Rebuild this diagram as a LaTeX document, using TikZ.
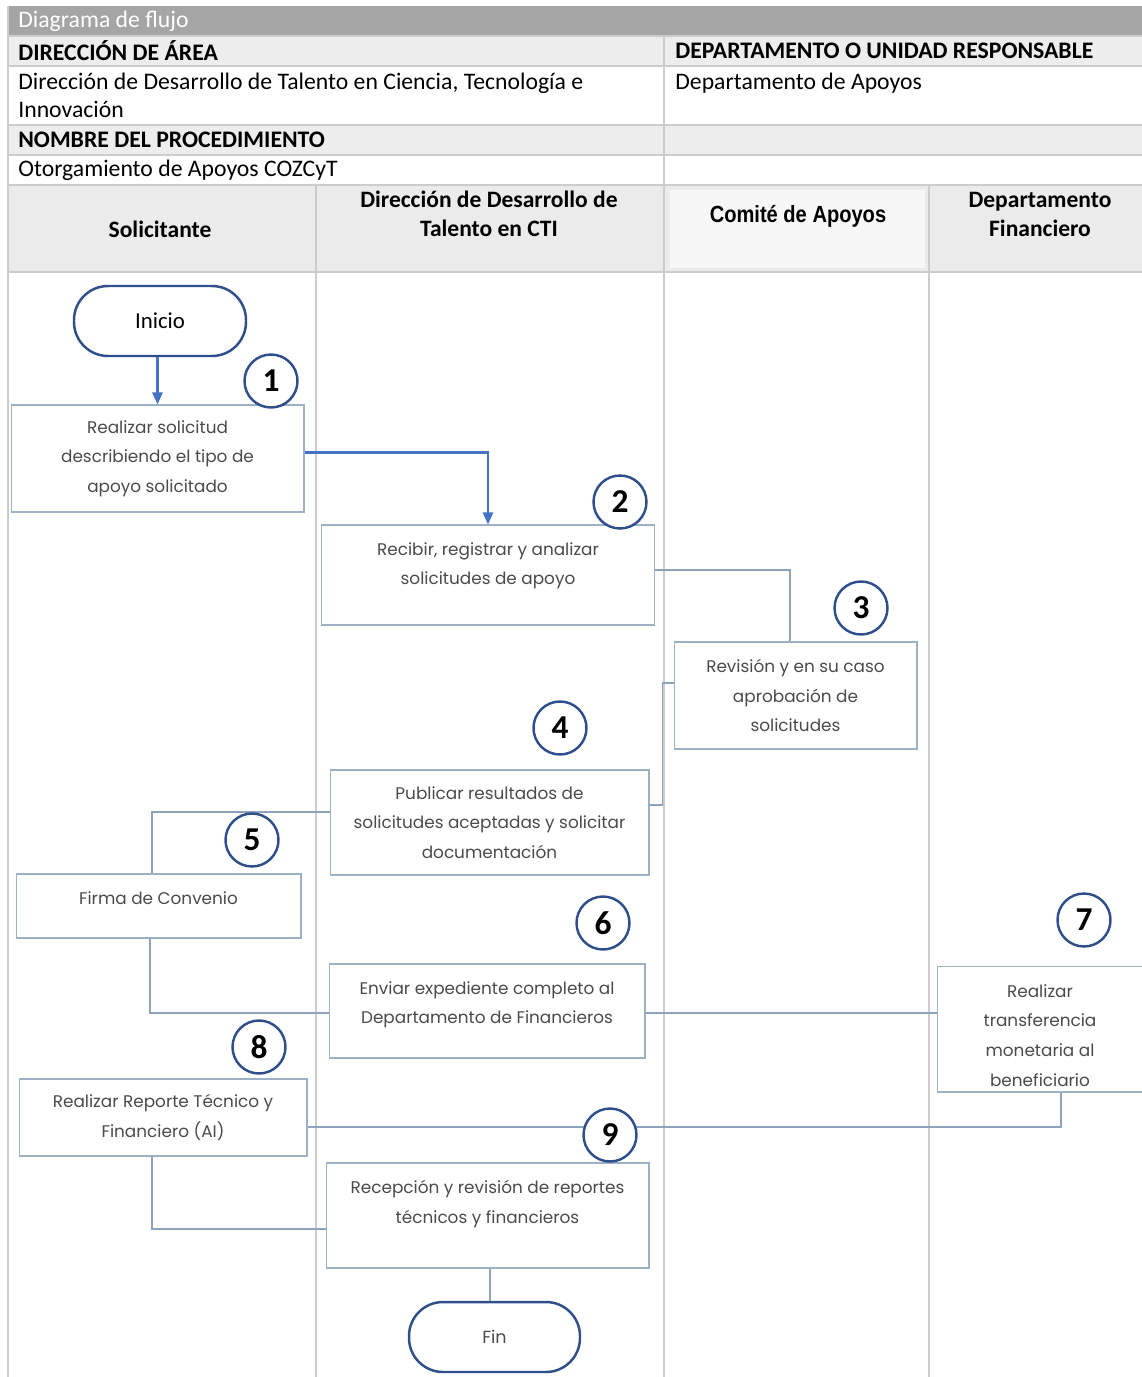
\documentclass[tikz,border=0pt]{standalone}
\usepackage{fontspec}
\setmainfont{Carlito}
\newfontfamily\boxfont{Poppins}
\newfontfamily\narrowfont{Liberation Sans}[FakeStretch=0.86]
\usetikzlibrary{arrows.meta}

\definecolor{titlegray}{HTML}{A5A5A5}
\definecolor{rowgray}{HTML}{EDEDED}
\definecolor{lanegray}{HTML}{EBEBEB}
\definecolor{comitefill}{HTML}{F7F7F7}
\definecolor{gridcol}{HTML}{CCCCCC}
\definecolor{navy}{HTML}{2F4F8A}
\definecolor{boxline}{HTML}{9CB0C6}
\definecolor{linkcol}{HTML}{8DA3BB}
\definecolor{flowblue}{HTML}{4472C4}
\definecolor{boxtext}{HTML}{4A4A4A}

\begin{document}
\begin{tikzpicture}[x=0.02cm, y=-0.02cm,
    grid/.style={gridcol, line width=0.6pt},
    head/.style={font=\bfseries\fontsize{13.4}{16.5}\selectfont, align=center},
    cell/.style={font=\fontsize{13.5}{16}\selectfont, inner sep=0pt},
    bold/.style={font=\bfseries\fontsize{13.5}{16}\selectfont},
    stepbox/.style={draw=boxline, line width=0.6pt, align=center, text=boxtext, inner sep=0pt,
      font=\boxfont\fontsize{9.6}{16.8}\selectfont},
    ends/.style={draw=navy, line width=1.4pt, rounded corners=0.68cm,
      minimum width=3.44cm, minimum height=1.4cm},
    num/.style={circle, draw=navy, line width=1.4pt, fill=white, minimum size=1.06cm,
      inner sep=0pt, font=\bfseries\fontsize{19}{19}\selectfont},
    link/.style={draw=linkcol, line width=0.6pt},
    flow/.style={draw=flowblue, line width=1.3pt, -{Triangle[length=0.24cm, width=0.2cm]}}]
  \useasboundingbox (0,0) rectangle (1142,1377);

  % encabezado
  \fill[titlegray] (8,6) rectangle (1142,36);
  \fill[rowgray] (8,36) rectangle (1142,66);
  \fill[rowgray] (8,125) rectangle (1142,155);
  \fill[lanegray] (8,185) rectangle (1142,272);
  \fill[comitefill] (670,190) rectangle (925,268);
  \foreach \y in {36,66,125,155,185,272}
    \draw[grid] (8,\y) -- (1142,\y);
  \draw[grid] (8,6) -- (8,1377);
  \draw[grid] (664,36) -- (664,1377);
  \draw[grid] (316,185) -- (316,1377);
  \draw[grid] (929,185) -- (929,1377);

  \node[cell, anchor=west, text=white] (titulo) at (18,21) {Diagrama de flujo};
  \node[cell, bold, anchor=west] (area) at (18,51) {DIRECCIÓN DE ÁREA};
  \node[cell, bold, anchor=west] (unidad) at (675,51) {DEPARTAMENTO O UNIDAD RESPONSABLE};
  \node[cell, anchor=north west, align=left] (areanom) at (18,73) {Dirección de Desarrollo de Talento en Ciencia, Tecnología e\\Innovación};
  \node[cell, anchor=north west] (unidadnom) at (675,73) {Departamento de Apoyos};
  \node[cell, bold, anchor=west] (proc) at (18,140) {NOMBRE DEL PROCEDIMIENTO};
  \node[cell, anchor=west] (procnom) at (18,170) {Otorgamiento de Apoyos COZCyT};

  \node[head] (sol) at (160,229) {Solicitante};
  \node[head] (dir) at (489,214) {Dirección de Desarrollo de\\Talento en CTI};
  \node[head, font=\narrowfont\bfseries\fontsize{13.3}{15}\selectfont] (com) at (798,216) {Comité de Apoyos};
  \node[head] (dfin) at (1040,214) {Departamento\\Financiero};

  % actividades
  \node[ends, font=\fontsize{13}{15}\selectfont] (inicio) at (160,321) {Inicio};
  \node[stepbox, minimum width=5.86cm, minimum height=2.14cm] (b1) at (157.5,458.5) {Realizar solicitud\\describiendo el tipo de\\apoyo solicitado};
  \node[stepbox, minimum width=6.68cm, minimum height=2.0cm] (b2) at (488,575) {Recibir, registrar y analizar\\solicitudes de apoyo\\[-9pt]\strut};
  \node[stepbox, minimum width=4.86cm, minimum height=2.14cm] (b3) at (795.5,695.5) {Revisión y en su caso\\aprobación de\\solicitudes};
  \node[stepbox, minimum width=6.38cm, minimum height=2.1cm] (b4) at (489.5,822.5) {Publicar resultados de\\solicitudes aceptadas y solicitar\\documentación};
  \node[stepbox, minimum width=5.7cm, minimum height=1.28cm, text depth=0.3cm] (b5) at (158.5,906) {Firma de Convenio};
  \node[stepbox, minimum width=6.32cm, minimum height=1.88cm] (b6) at (487,1011) {Enviar expediente completo al\\Departamento de Financieros\\[-12pt]\strut};
  \node[stepbox, minimum width=4.12cm, minimum height=2.52cm] (b7) at (1040,1029) {\strut\\[-14pt]Realizar\\transferencia\\monetaria al\\beneficiario};
  \node[stepbox, minimum width=5.76cm, minimum height=1.54cm] (b8) at (163,1117.5) {Realizar Reporte Técnico y\\Financiero (AI)};
  \node[stepbox, minimum width=6.46cm, minimum height=2.1cm] (b9) at (487.5,1215.5) {Recepción y revisión de reportes\\técnicos y financieros\\[-6pt]\strut};
  \node[ends, text=boxtext, font=\boxfont\fontsize{10}{12}\selectfont, minimum width=3.42cm] (fin) at (494.5,1337) {Fin};

  % conexiones
  \draw[flow] (b1.north |- inicio.south) -- (b1.north);
  \draw[flow] ([yshift=0.12cm]b1.east) -| (b2.north);
  \draw[link] ([yshift=0.1cm]b2.east) -| ([xshift=-0.11cm]b3.north);
  \draw[link] ([yshift=0.25cm]b3.west) -- ++(-11,0) |- ([yshift=0.35cm]b4.east);
  \draw[link] ([yshift=0.21cm]b4.west) -| ([xshift=-0.13cm]b5.north);
  \draw[link] ([xshift=-0.17cm]b5.south) |- ([yshift=-0.04cm]b6.west);
  \draw[link] ([yshift=-0.04cm]b6.east) -- ([yshift=-0.04cm]b6.east -| b7.west);
  \draw[link] ([xshift=0.42cm]b7.south) |- ([yshift=-0.19cm]b8.east);
  \draw[link] ([xshift=-0.22cm]b8.south) |- ([yshift=-0.27cm]b9.west);
  \draw[link] ([xshift=0.05cm]b9.south) -- ([xshift=0.05cm]b9.south |- fin.north);

  % numeros
  \node[num] (c1) at (271,381) {1};
  \node[num] (c2) at (620,502) {2};
  \node[num] (c3) at (861,608) {3};
  \node[num] (c4) at (560,728) {4};
  \node[num] (c5) at (252,840) {5};
  \node[num] (c6) at (603,923) {6};
  \node[num] (c7) at (1084,920) {7};
  \node[num] (c8) at (259,1047) {8};
  \node[num] (c9) at (610,1135) {9};
\end{tikzpicture}
\end{document}
